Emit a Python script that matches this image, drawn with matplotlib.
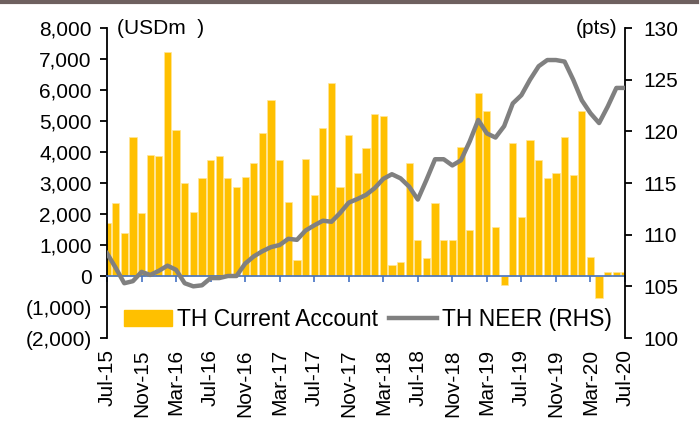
"""Thailand current account (bars) vs TH NEER (line, RHS), Jul-15 to Jul-20."""

import matplotlib
matplotlib.use("Agg")
import matplotlib.pyplot as plt
import matplotlib.lines as mlines
import matplotlib.patches as mpatches
from matplotlib.ticker import FuncFormatter
import numpy as np

plt.rcParams["font.family"] = ["Liberation Sans", "DejaVu Sans"]

# Monthly data, Jul-15 .. Jul-20 (61 months)
CURRENT_ACCOUNT = [
    1700, 2360, 1380, 4500, 2030, 3900, 3860, 7240, 4720, 2990,
    2060, 3150, 3740, 3860, 3150, 2880, 3200, 3630, 4600, 5690,
    3740, 2390, 520, 3790, 2620, 4770, 6230, 2880, 4550, 3310,
    4120, 5240, 5150, 350, 460, 3630, 1160, 570, 2360, 1160,
    1160, 4170, 1480, 5890, 5310, 1580, -300, 4280, 1900, 4390,
    3740, 3150, 3310, 4500, 3250, 5310, 620, -710, 130, 130, 140,
]
NEER = [
    108.2, 106.8, 105.3, 105.5, 106.4, 106.1, 106.5, 107.0, 106.6, 105.3,
    105.0, 105.1, 105.8, 105.8, 106.0, 106.0, 107.2, 107.9, 108.4, 108.8,
    109.0, 109.6, 109.5, 110.4, 110.9, 111.35, 111.25, 112.1, 113.1, 113.45,
    113.85, 114.5, 115.4, 115.85, 115.45, 114.65, 113.4, 115.3, 117.3, 117.3,
    116.7, 117.2, 119.0, 121.1, 119.8, 119.4, 120.5, 122.7, 123.5, 125.0,
    126.3, 126.9, 126.9, 126.75, 125.0, 123.0, 121.75, 120.8, 122.4, 124.2,
    124.2,
]
TICK_LABELS = [
    "Jul-15", "Nov-15", "Mar-16", "Jul-16", "Nov-16", "Mar-17", "Jul-17", "Nov-17",
    "Mar-18", "Jul-18", "Nov-18", "Mar-19", "Jul-19", "Nov-19", "Mar-20", "Jul-20",
]
TICK_STEP = 4  # months between labels

BAR_COLOR = "#FFC000"
LINE_COLOR = "#808080"
AXIS_BLUE = "#4472C4"
FS = 15


def _fmt_usd(v, _pos):
    if v < 0:
        return f"({abs(v):,.0f})"
    return f"{v:,.0f}"


x = np.arange(len(CURRENT_ACCOUNT))

fig = plt.figure(figsize=(7.0, 4.23), dpi=100)
ax = fig.add_axes([107 / 700, 1 - 338 / 423, 518 / 700, 310 / 423])
ax2 = ax.twinx()

bars = ax.bar(x, CURRENT_ACCOUNT, width=0.84, color=BAR_COLOR,
              edgecolor="#FFE699", linewidth=0.5, zorder=1)
ax2.plot(x, NEER, color=LINE_COLOR, linewidth=3.2, solid_joinstyle="round", zorder=3)

ax.set_xlim(0, len(CURRENT_ACCOUNT) - 1)
ax.set_ylim(-2000, 8000)
ax.set_yticks(np.arange(-2000, 8001, 1000))
ax.yaxis.set_major_formatter(FuncFormatter(_fmt_usd))
ax2.set_ylim(100, 130)
ax2.set_yticks(np.arange(100, 131, 5))

# spines
for sp in ("top", "right"):
    ax.spines[sp].set_visible(False)
for sp in ("top", "bottom", "left"):
    ax2.spines[sp].set_visible(False)
ax.spines["left"].set_linewidth(1.3)
ax2.spines["right"].set_linewidth(1.3)
ax.spines["bottom"].set_position(("data", 0))
ax.spines["bottom"].set_color(AXIS_BLUE)
ax.spines["bottom"].set_linewidth(1.2)

ticks = x[::TICK_STEP]
ax.set_xticks(ticks)
ax.tick_params(axis="x", direction="out", length=4, width=1.2,
               color=AXIS_BLUE, labelbottom=False)
ax.tick_params(axis="y", direction="out", length=5, width=1.3, labelsize=FS, pad=6)
ax2.tick_params(axis="y", direction="out", length=5, width=1.3, labelsize=FS, pad=8)

# date labels at the bottom of the plot area
sec = ax.secondary_xaxis("bottom")
sec.set_xticks(ticks, TICK_LABELS, rotation=90, fontsize=FS)
sec.spines["bottom"].set_visible(False)
sec.tick_params(length=0, pad=8)

# unit labels
ax.text(0.02, 1.0, "(USDm  )", transform=ax.transAxes, fontsize=FS,
        ha="left", va="center")
ax.text(0.985, 1.0, "(pts)", transform=ax.transAxes, fontsize=FS,
        ha="right", va="center")

handles = [
    mpatches.Patch(color=BAR_COLOR, label="TH Current Account"),
    mlines.Line2D([0], [0], color=LINE_COLOR, linewidth=3.2, label="TH NEER (RHS)"),
]
ax2.legend(handles=handles, ncol=2, frameon=False, fontsize=16.5,
           loc="center left", bbox_to_anchor=(0.033, 0.06), borderaxespad=0,
           borderpad=0, handlelength=2.1, handletextpad=0.2, columnspacing=0.5,
           handleheight=0.7)

# thin brown rule along the top of the figure
fig.add_artist(mlines.Line2D([0, 0.996], [1 - 2 / 423, 1 - 2 / 423],
                             transform=fig.transFigure, color="#6E605F", linewidth=3))

fig.savefig("out.png", dpi=100)
